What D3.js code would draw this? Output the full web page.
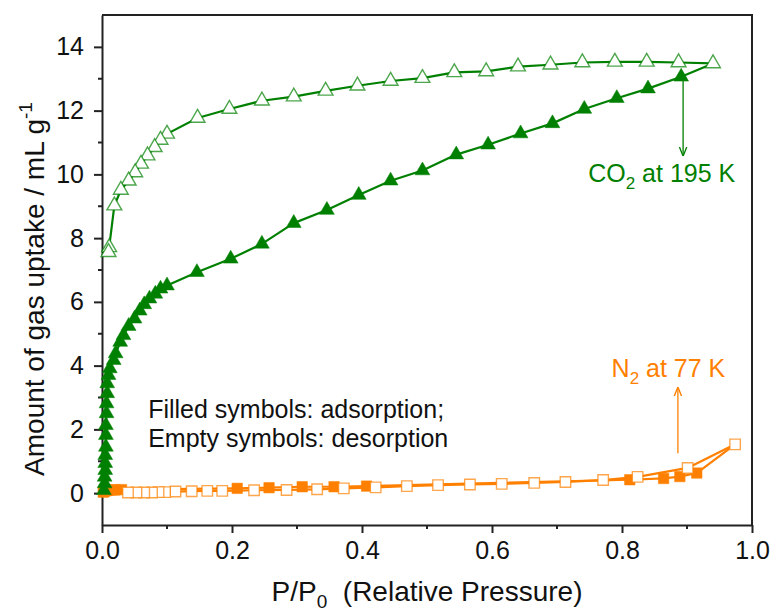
<!DOCTYPE html>
<html>
<head>
<meta charset="utf-8">
<script src="https://cdn.jsdelivr.net/npm/d3@7"></script>
<style>
  body { margin: 0; background: #fff; }
  svg { font-family: "Liberation Sans", Arial, sans-serif; }
  .axis text { font-size: 25px; fill: #111; }
  .axis path, .axis line { stroke: #222; }
</style>
</head>
<body>
<svg id="chart"></svg>
<script>
// CO2 at 195 K, adsorption (filled triangles)
const co2AdsX = [0.003, 0.004, 0.004, 0.005, 0.005, 0.005, 0.006, 0.006, 0.006, 0.007, 0.007, 0.008, 0.008,
  0.010, 0.012, 0.018, 0.021, 0.028, 0.033, 0.041, 0.050, 0.058, 0.065, 0.073, 0.082, 0.090, 0.100,
  0.146, 0.198, 0.246, 0.295, 0.346, 0.395, 0.444, 0.493, 0.545, 0.594, 0.644, 0.693, 0.742, 0.792, 0.840, 0.891];
const co2AdsY = [0.09, 0.30, 0.51, 0.72, 0.94, 1.19, 1.45, 1.82, 2.13, 2.50, 2.81, 3.13, 3.44,
  3.70, 3.91, 4.17, 4.38, 4.74, 4.95, 5.24, 5.47, 5.72, 5.92, 6.10, 6.25, 6.41, 6.51,
  6.93, 7.35, 7.82, 8.47, 8.88, 9.35, 9.80, 10.12, 10.62, 10.93, 11.28, 11.60, 12.05, 12.39, 12.69, 13.06];

// CO2 at 195 K, desorption (empty triangles)
const co2DesX = [0.940, 0.887, 0.838, 0.789, 0.739, 0.690, 0.640, 0.591, 0.542, 0.493, 0.444, 0.393, 0.344,
  0.295, 0.246, 0.196, 0.147, 0.100, 0.090, 0.081, 0.070, 0.060, 0.051, 0.041, 0.029, 0.019, 0.011, 0.010];
const co2DesY = [13.48, 13.51, 13.53, 13.53, 13.51, 13.44, 13.38, 13.23, 13.20, 13.02, 12.93, 12.78, 12.62,
  12.44, 12.31, 12.05, 11.77, 11.27, 11.08, 10.85, 10.59, 10.33, 10.06, 9.80, 9.51, 9.02, 7.71, 7.56];

// N2 at 77 K, adsorption (filled squares)
const n2AdsX = [0.002, 0.004, 0.007, 0.010, 0.015, 0.020, 0.030, 0.208, 0.257, 0.308, 0.357, 0.407, 0.812, 0.864, 0.889, 0.915];
const n2AdsY = [0.03, 0.06, 0.08, 0.09, 0.10, 0.10, 0.11, 0.15, 0.17, 0.20, 0.20, 0.22, 0.42, 0.46, 0.52, 0.63];

// N2 at 77 K, desorption (empty squares)
const n2DesX = [0.974, 0.901, 0.824, 0.771, 0.713, 0.665, 0.615, 0.566, 0.517, 0.469, 0.421, 0.372, 0.331,
  0.284, 0.234, 0.185, 0.162, 0.138, 0.113, 0.097, 0.087, 0.077, 0.065, 0.053, 0.040];
const n2DesY = [1.53, 0.79, 0.51, 0.41, 0.35, 0.32, 0.29, 0.27, 0.25, 0.22, 0.18, 0.15, 0.12,
  0.10, 0.09, 0.07, 0.07, 0.06, 0.05, 0.03, 0.03, 0.02, 0.02, 0.02, 0.02];

const xTicks = [0, 0.2, 0.4, 0.6, 0.8, 1.0];
const xMinor = [0.1, 0.3, 0.5, 0.7, 0.9];
const yTicks = [0, 2, 4, 6, 8, 10, 12, 14];
const yMinor = [1, 3, 5, 7, 9, 11, 13];

const green = '#008000';
const orange = '#ff8000';

const width = 771, height = 611;
const margin = { top: 15, right: 19, bottom: 86, left: 102 };

const svg = d3.select('#chart').attr('width', width).attr('height', height);

const x = d3.scaleLinear().domain([0, 1]).range([margin.left, width - margin.right]);
const y = d3.scaleLinear().domain([-1, 15]).range([height - margin.bottom, margin.top]);

const zip = (xs, ys) => xs.map((v, i) => ({ x: v, y: ys[i] }));
const co2Ads = zip(co2AdsX, co2AdsY);
const co2Des = zip(co2DesX, co2DesY);
const n2Ads = zip(n2AdsX, n2AdsY);
const n2Des = zip(n2DesX, n2DesY);

// axes
const xAxisG = svg.append('g').attr('class', 'axis')
  .attr('transform', `translate(0,${y(-1)})`)
  .call(d3.axisBottom(x).tickValues(xTicks).tickFormat(d3.format('.1f')).tickSize(8).tickSizeOuter(0).tickPadding(8));
xAxisG.selectAll('.minor').data(xMinor).join('line').attr('class', 'minor')
  .attr('x1', d => x(d)).attr('x2', d => x(d)).attr('y1', 0).attr('y2', 4);

const yAxisG = svg.append('g').attr('class', 'axis')
  .attr('transform', `translate(${x(0)},0)`)
  .call(d3.axisLeft(y).tickValues(yTicks).tickSize(8).tickSizeOuter(0).tickPadding(10));
yAxisG.selectAll('.minor').data(yMinor).join('line').attr('class', 'minor')
  .attr('y1', d => y(d)).attr('y2', d => y(d)).attr('x1', 0).attr('x2', -4);

svg.selectAll('.axis path, .axis line').attr('stroke-width', 2);

// frame top / right
svg.append('path')
  .attr('d', `M${x(0)},${y(15)}H${x(1)}V${y(-1)}`)
  .attr('fill', 'none').attr('stroke', '#222').attr('stroke-width', 2);

// axis titles
const xt = svg.append('text').attr('x', x(0.5)).attr('y', 601)
  .attr('text-anchor', 'middle').attr('font-size', 28).attr('fill', '#111');
xt.append('tspan').text('P/P');
xt.append('tspan').attr('dy', 7).attr('font-size', 19).text('0');
xt.append('tspan').attr('dy', -7).text('\u00a0 (Relative Pressure)');

const yt = svg.append('text')
  .attr('transform', 'translate(44,289) rotate(-90)')
  .attr('text-anchor', 'middle').attr('font-size', 28).attr('fill', '#111');
yt.append('tspan').text('Amount of gas uptake / mL g');
yt.append('tspan').attr('dy', -12).attr('font-size', 19).text('-1');

// lines + markers
const line = d3.line().x(d => x(d.x)).y(d => y(d.y));
const tri = d3.symbol(d3.symbolTriangle, 95)();
const sq = d3.symbol(d3.symbolSquare, 110)();

function series(data, lineData, color, shape, filled) {
  svg.append('path').datum(lineData)
    .attr('d', line).attr('fill', 'none')
    .attr('stroke', color).attr('stroke-width', 2.2).attr('stroke-linejoin', 'round');
  svg.append('g').selectAll('path').data(data).join('path')
    .attr('d', shape)
    .attr('transform', d => `translate(${x(d.x)},${y(d.y)})`)
    .attr('fill', filled ? color : '#fff')
    .attr('stroke', color)
    .attr('stroke-opacity', filled ? 1 : 0.7)
    .attr('stroke-width', filled ? 0.5 : 1.4);
}

series(n2Ads, n2Ads.concat([n2Des[0]]), orange, sq, true);
series(n2Des, n2Des, orange, sq, false);
series(co2Ads, co2Ads.concat([co2Des[0]]), green, tri, true);
series(co2Des, co2Des, green, tri, false);

// annotation arrows
svg.append('defs').selectAll('marker').data([['ahG', green], ['ahO', orange]]).join('marker')
  .attr('id', d => d[0]).attr('viewBox', '0 0 10 10').attr('refX', 9).attr('refY', 5)
  .attr('markerWidth', 7).attr('markerHeight', 9).attr('orient', 'auto')
  .append('path').attr('d', 'M0,1L10,5L0,9').attr('fill', 'none').attr('stroke', d => d[1]).attr('stroke-width', 1.5);

svg.append('line').attr('x1', x(0.894)).attr('x2', x(0.894)).attr('y1', y(13.2)).attr('y2', y(10.6))
  .attr('stroke', green).attr('stroke-width', 1.3).attr('marker-end', 'url(#ahG)');
svg.append('line').attr('x1', x(0.886)).attr('x2', x(0.886)).attr('y1', y(1.25)).attr('y2', y(3.3))
  .attr('stroke', orange).attr('stroke-width', 1.3).attr('marker-end', 'url(#ahO)');

const co2Label = svg.append('text').attr('x', x(0.748)).attr('y', y(9.77))
  .attr('font-size', 25).attr('fill', green);
co2Label.append('tspan').text('CO');
co2Label.append('tspan').attr('dy', 7).attr('font-size', 17).text('2');
co2Label.append('tspan').attr('dy', -7).text(' at 195 K');

const n2Label = svg.append('text').attr('x', x(0.784)).attr('y', y(3.65))
  .attr('font-size', 25).attr('fill', orange);
n2Label.append('tspan').text('N');
n2Label.append('tspan').attr('dy', 7).attr('font-size', 17).text('2');
n2Label.append('tspan').attr('dy', -7).text(' at 77 K');

svg.append('text').attr('x', x(0.071)).attr('y', y(2.36))
  .attr('font-size', 25).attr('fill', '#111').text('Filled symbols: adsorption;');
svg.append('text').attr('x', x(0.071)).attr('y', y(1.45))
  .attr('font-size', 25).attr('fill', '#111').text('Empty symbols: desorption');
</script>
</body>
</html>
